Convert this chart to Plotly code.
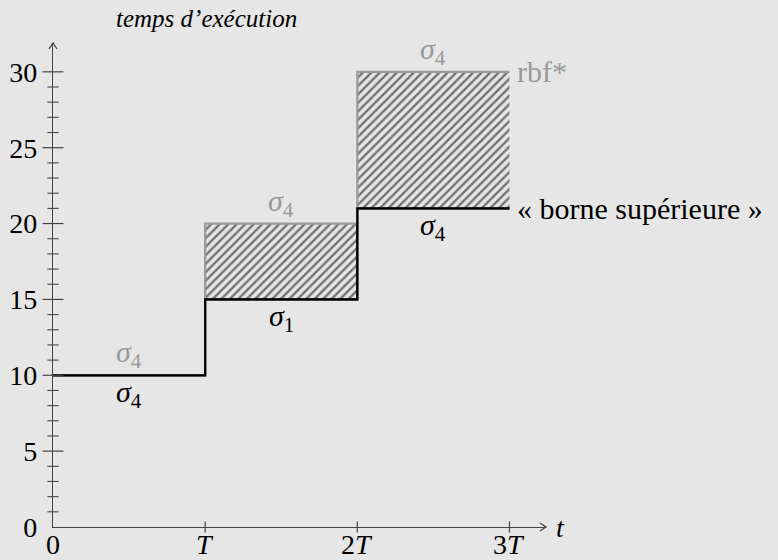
import plotly.graph_objects as go

# Period boundaries (in units of T) and execution-time curves
period_edges = [0, 1, 2, 3]
upper_bound = [10, 15, 21]      # « borne supérieure »
rbf_star = [10, 20, 30]         # rbf*
upper_labels = ["σ4", "σ4", "σ4"]   # above rbf* segments (grey)
lower_labels = ["σ4", "σ1", "σ4"]   # below upper-bound segments (black)

x_tick_vals = [0, 1, 2, 3]
x_tick_text = ["0", "<i>T</i>", "2<i>T</i>", "3<i>T</i>"]
y_major = [0, 5, 10, 15, 20, 25, 30]
y_minor = [v for v in range(0, 31) if v % 5 != 0]

BG = "#e6e6e6"
GREY = "#999999"
AXIS = "#444444"
FONT = "Liberation Serif, DejaVu Serif, serif"
FS = 28

x_range = [0, 3.24]
y_range = [0, 31.9]
M = dict(l=53, r=232, t=43, b=33)
PW = 778 - M["l"] - M["r"]
PH = 560 - M["t"] - M["b"]


def step(vals):
    return vals + [vals[-1]]


def sigma(label):
    return "<i>σ</i><sub>%s</sub>" % label[1:]


fig = go.Figure()

# lower curve (fill baseline)
fig.add_trace(go.Scatter(
    x=period_edges, y=step(upper_bound), mode="lines",
    line=dict(color="black", width=2, shape="hv"), showlegend=False,
    hoverinfo="skip"))
# rbf* with hatched gap down to the upper bound
fig.add_trace(go.Scatter(
    x=period_edges, y=step(rbf_star), mode="lines",
    line=dict(color=GREY, width=2.2, shape="hv"),
    fill="tonexty", fillcolor="rgba(0,0,0,0)",
    fillpattern=dict(shape="/", fgcolor="black", bgcolor="rgba(0,0,0,0)",
                     size=6, solidity=0.4),
    showlegend=False, hoverinfo="skip"))
# upper bound redrawn on top
fig.add_trace(go.Scatter(
    x=period_edges, y=step(upper_bound), mode="lines",
    line=dict(color="black", width=2.2, shape="hv"), showlegend=False,
    hoverinfo="skip"))

# tick marks crossing the axes
fig.add_trace(go.Scatter(
    x=[0] * len(y_minor), y=y_minor, mode="markers", cliponaxis=False,
    marker=dict(symbol="line-ew", size=8, line=dict(color=AXIS, width=1.1)),
    showlegend=False, hoverinfo="skip"))
fig.add_trace(go.Scatter(
    x=[0] * (len(y_major) - 1), y=y_major[1:], mode="markers", cliponaxis=False,
    marker=dict(symbol="line-ew", size=15, line=dict(color=AXIS, width=1.2)),
    showlegend=False, hoverinfo="skip"))
fig.add_trace(go.Scatter(
    x=x_tick_vals[1:], y=[0] * (len(x_tick_vals) - 1), mode="markers",
    cliponaxis=False,
    marker=dict(symbol="line-ns", size=8, line=dict(color=AXIS, width=1.2)),
    showlegend=False, hoverinfo="skip"))


def chevron(tip_x, tip_y, pts):
    # tip in paper units, arms given as pixel offsets from the tip
    d = ""
    for i, (dx, dy) in enumerate(pts):
        d += ("M" if i == 0 else "L") + " %.5f,%.5f " % (tip_x + dx / PW,
                                                          tip_y + dy / PH)
    return dict(type="path", xref="paper", yref="paper", path=d,
                line=dict(color=AXIS, width=1.3))


shapes = [
    chevron(1, 0, [(-6, 4), (0, 0), (-6, -4)]),
    chevron(0, 1, [(-4, -6), (0, 0), (4, -6)]),
]

SIG = 30
annotations = []
for i in range(3):
    xm = (period_edges[i] + period_edges[i + 1]) / 2
    annotations.append(dict(x=xm, y=rbf_star[i], text=sigma(upper_labels[i]),
                            showarrow=False, yshift=21,
                            font=dict(family=FONT, size=SIG, color=GREY)))
    annotations.append(dict(x=xm, y=upper_bound[i], text=sigma(lower_labels[i]),
                            showarrow=False, yshift=-19,
                            font=dict(family=FONT, size=SIG, color="black")))

# x tick labels just under the axis
for v, t in zip(x_tick_vals, x_tick_text):
    annotations.append(dict(x=v, y=0, text=t, showarrow=False,
                            yanchor="top", yshift=0,
                            font=dict(family=FONT, size=FS, color="black")))

annotations.append(dict(x=period_edges[-1], y=rbf_star[-1], text="rbf*",
                        showarrow=False, xanchor="left", xshift=6,
                        font=dict(family=FONT, size=30, color=GREY)))
annotations.append(dict(x=period_edges[-1], y=upper_bound[-1],
                        text="«\u00a0borne supérieure\u00a0»",
                        showarrow=False, xanchor="left", xshift=6,
                        font=dict(family=FONT, size=30, color="black")))
annotations.append(dict(x=x_range[1], y=0, text="<i>t</i>", showarrow=False,
                        xanchor="left", xshift=8, yshift=0,
                        font=dict(family=FONT, size=FS, color="black")))
annotations.append(dict(x=0, y=y_range[1], text="<i>temps d’exécution</i>",
                        showarrow=False, xanchor="left", yanchor="bottom",
                        xshift=61, yshift=9,
                        font=dict(family=FONT, size=25, color="black")))

fig.update_layout(
    width=778, height=560,
    margin=M,
    paper_bgcolor=BG, plot_bgcolor=BG,
    shapes=shapes, annotations=annotations,
    xaxis=dict(range=x_range, showgrid=False, zeroline=False, automargin=False,
               showline=True, linecolor=AXIS, linewidth=1.4,
               showticklabels=False, ticks=""),
    yaxis=dict(range=y_range, showgrid=False, zeroline=False, automargin=False,
               showline=True, linecolor=AXIS, linewidth=1.4,
               tickvals=y_major, ticks="", ticklabelstandoff=9,
               tickfont=dict(family=FONT, size=FS, color="black")),
)

fig.write_html("out.html")
